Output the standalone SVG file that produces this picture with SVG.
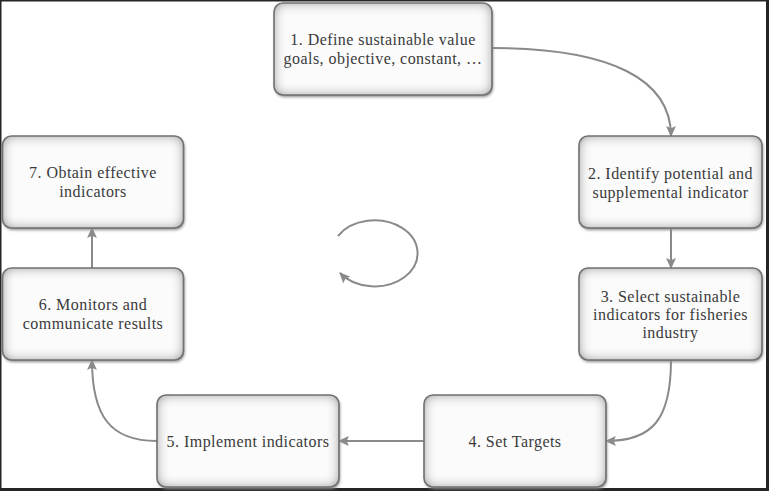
<svg xmlns="http://www.w3.org/2000/svg" width="769" height="491" viewBox="0 0 769 491">
<defs>
<style>
.bg{fill:#fbfbfb;filter:url(#inner)}
.sh{fill:#8a8a8a;filter:url(#drop)}
.bd{fill:none;stroke:#707070;stroke-width:1.6}
.t{font-family:"Liberation Serif","Times New Roman",serif;font-size:16px;letter-spacing:0.45px;fill:#3a3a3a;text-anchor:middle}
.c{fill:none;stroke:#8a8a8a;stroke-width:2}
</style>
<filter id="drop" x="-10%" y="-10%" width="120%" height="130%">
<feGaussianBlur stdDeviation="1.8"/>
<feOffset dx="0.5" dy="2"/>
</filter>
<filter id="inner" x="-10%" y="-10%" width="120%" height="120%">
<feFlood flood-color="#7a7a7a" result="c"/>
<feComposite in="c" in2="SourceAlpha" operator="out" result="o"/>
<feGaussianBlur in="o" stdDeviation="6" result="b"/>
<feComposite in="b" in2="SourceAlpha" operator="in" result="i"/>
<feMerge><feMergeNode in="SourceGraphic"/><feMergeNode in="i"/></feMerge>
</filter>
<marker id="ah" viewBox="0 0 10 10" refX="9" refY="5" markerWidth="11" markerHeight="11" markerUnits="userSpaceOnUse" orient="auto">
<path d="M0,0.5 L10,5 L0,9.5 L2,5 z" fill="#8a8a8a"/>
</marker>
</defs>
<rect x="0" y="0" width="769" height="491" fill="#ffffff"/>
<g id="frame" fill="#252525">
<rect x="0" y="0" width="769" height="1.5"/>
<rect x="0" y="0" width="1.5" height="491"/>
<rect x="766" y="0" width="3" height="491"/>
<rect x="0" y="488" width="769" height="3"/>
</g>
<g id="connectors">
<path class="c" marker-end="url(#ah)" d="M492,48 C612,48 671,80 671,136"/>
<path class="c" marker-end="url(#ah)" d="M671,228 L671,268"/>
<path class="c" marker-end="url(#ah)" d="M671,360 C671,420 652,441 606,441"/>
<path class="c" marker-end="url(#ah)" d="M424,441 L339,441"/>
<path class="c" marker-end="url(#ah)" d="M157,441 C110,441 92,416 92,360"/>
<path class="c" marker-end="url(#ah)" d="M92,268 L92,228"/>
<path class="c" marker-end="url(#ah)" d="M338,236 A43,33 0 1 1 340,273"/>
</g>
<g id="n1">
<rect class="sh" x="274" y="3" width="218" height="92" rx="9"/>
<rect class="bg" x="274" y="3" width="218" height="92" rx="9"/>
<rect class="bd" x="274" y="3" width="218" height="92" rx="9"/>
<text class="t" x="383" y="45">1. Define sustainable value</text>
<text class="t" x="383" y="64">goals, objective, constant, …</text>
</g>
<g id="n2">
<rect class="sh" x="579" y="136" width="183" height="92" rx="9"/>
<rect class="bg" x="579" y="136" width="183" height="92" rx="9"/>
<rect class="bd" x="579" y="136" width="183" height="92" rx="9"/>
<text class="t" x="670.5" y="179">2. Identify potential and</text>
<text class="t" x="670.5" y="198">supplemental indicator</text>
</g>
<g id="n3">
<rect class="sh" x="579" y="268" width="183" height="92" rx="9"/>
<rect class="bg" x="579" y="268" width="183" height="92" rx="9"/>
<rect class="bd" x="579" y="268" width="183" height="92" rx="9"/>
<text class="t" x="670.5" y="301.5">3. Select sustainable</text>
<text class="t" x="670.5" y="319.5">indicators for fisheries</text>
<text class="t" x="670.5" y="337.5">industry</text>
</g>
<g id="n4">
<rect class="sh" x="424" y="395" width="182" height="92" rx="9"/>
<rect class="bg" x="424" y="395" width="182" height="92" rx="9"/>
<rect class="bd" x="424" y="395" width="182" height="92" rx="9"/>
<text class="t" x="515" y="446.5">4. Set Targets</text>
</g>
<g id="n5">
<rect class="sh" x="157" y="395" width="182" height="92" rx="9"/>
<rect class="bg" x="157" y="395" width="182" height="92" rx="9"/>
<rect class="bd" x="157" y="395" width="182" height="92" rx="9"/>
<text class="t" x="248" y="446.5">5. Implement indicators</text>
</g>
<g id="n6">
<rect class="sh" x="2.5" y="268" width="181" height="92" rx="9"/>
<rect class="bg" x="2.5" y="268" width="181" height="92" rx="9"/>
<rect class="bd" x="2.5" y="268" width="181" height="92" rx="9"/>
<text class="t" x="93" y="310">6. Monitors and</text>
<text class="t" x="93" y="329">communicate results</text>
</g>
<g id="n7">
<rect class="sh" x="2.5" y="136" width="181" height="92" rx="9"/>
<rect class="bg" x="2.5" y="136" width="181" height="92" rx="9"/>
<rect class="bd" x="2.5" y="136" width="181" height="92" rx="9"/>
<text class="t" x="93" y="178">7. Obtain effective</text>
<text class="t" x="93" y="197">indicators</text>
</g>
</svg>
